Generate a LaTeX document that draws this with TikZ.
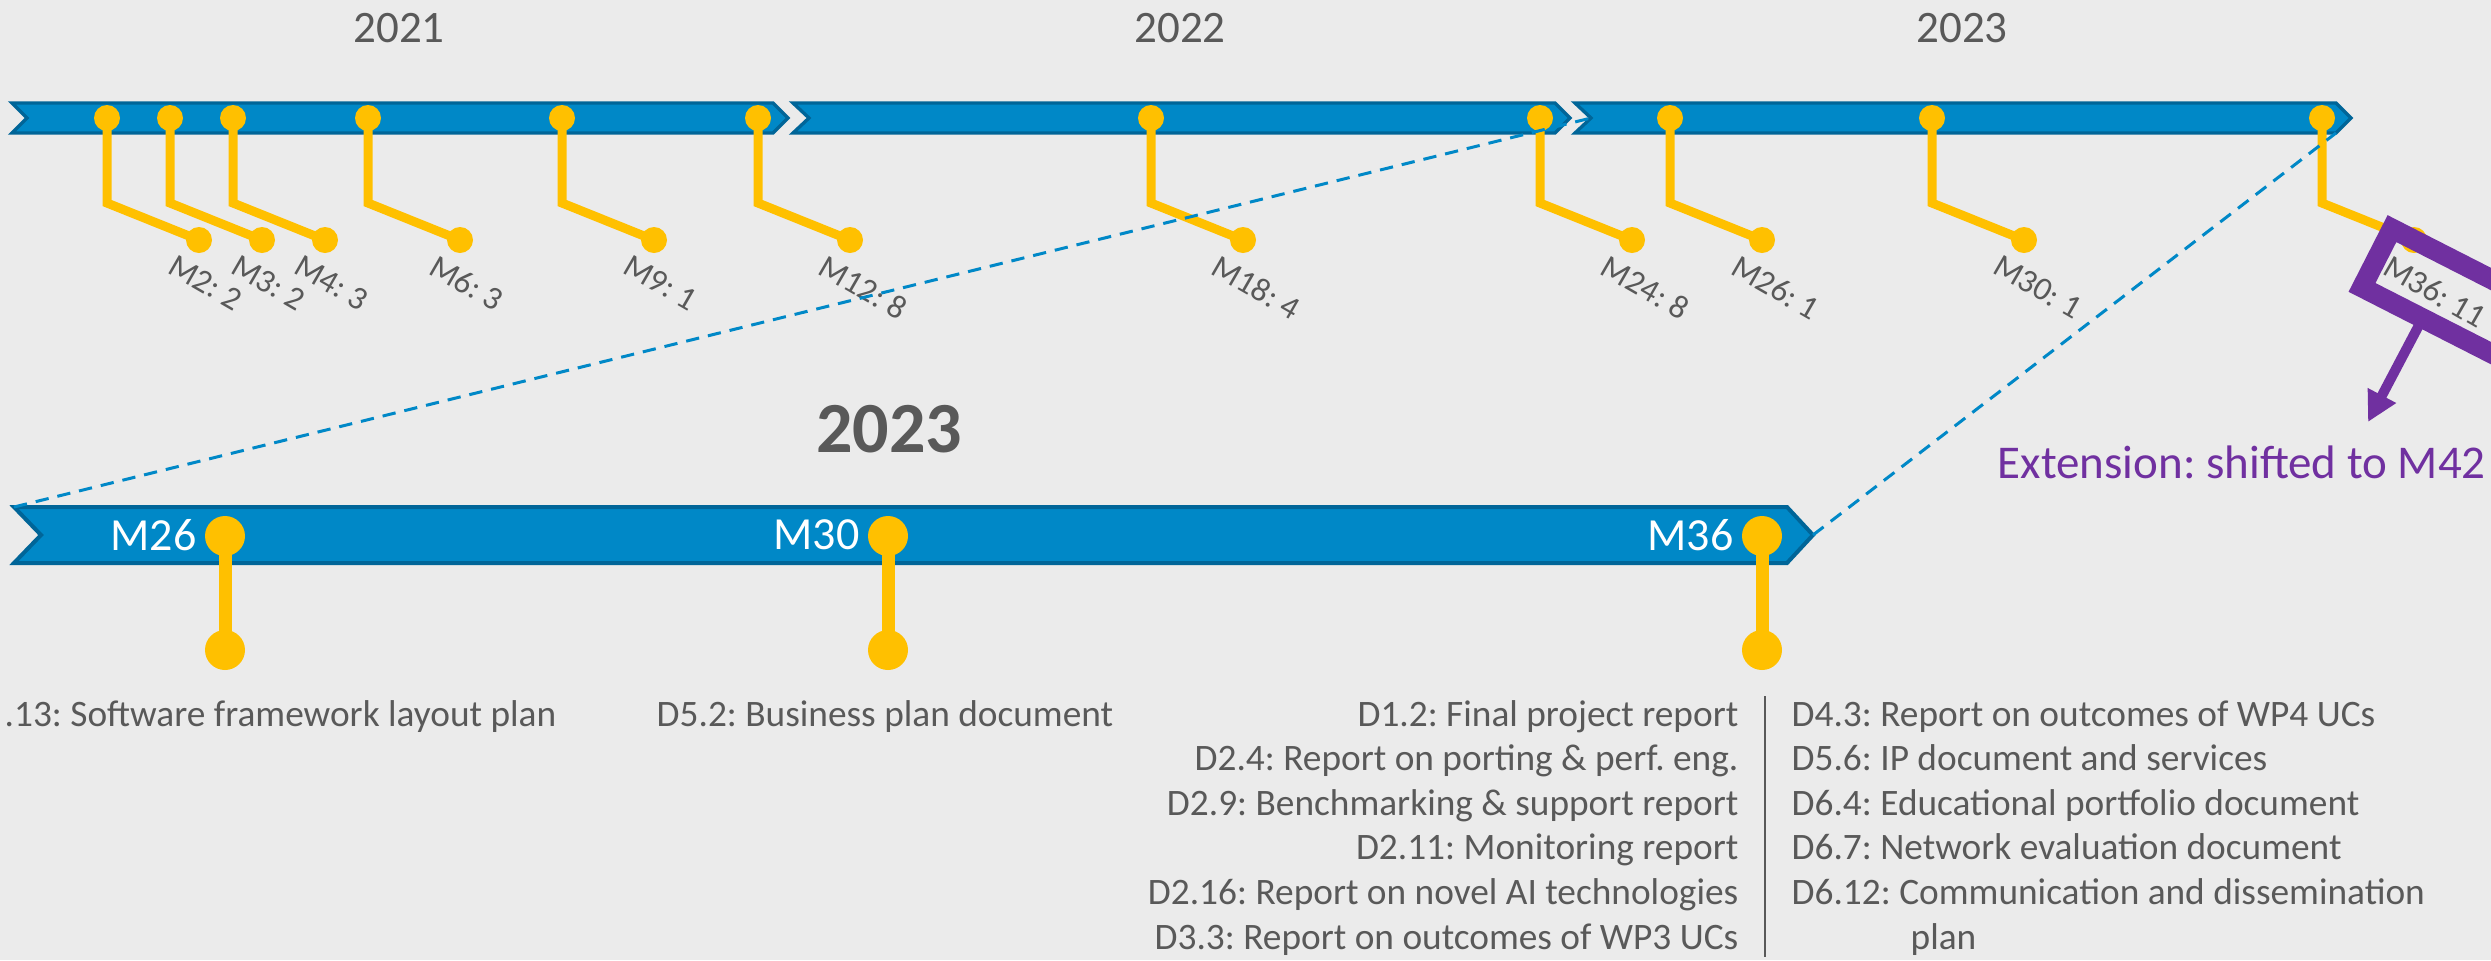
\documentclass[tikz,border=0pt]{standalone}
\usepackage{fontspec}
\setmainfont{Carlito}
\frenchspacing
\usetikzlibrary{arrows.meta,calc}

\definecolor{barblue}{RGB}{0,136,199}
\definecolor{baredge}{RGB}{0,101,152}
\definecolor{msyellow}{RGB}{255,192,0}
\definecolor{extpurple}{RGB}{112,48,160}
\definecolor{txtgray}{RGB}{89,89,89}
\definecolor{bggray}{RGB}{235,235,235}

\tikzset{
  tlbar/.style={fill=barblue, draw=baredge, line width=1pt},
  msdot/.style={circle, fill=msyellow, inner sep=0pt, minimum size=7.8pt},
  bigdot/.style={circle, fill=msyellow, inner sep=0pt, minimum size=12pt},
  mstem/.style={draw=msyellow, line width=2.7pt},
  bigstem/.style={draw=msyellow, line width=3.9pt},
  mlab/.style={anchor=north west, inner sep=0pt, rotate=-30, text=txtgray, font=\fontsize{9.9}{12}\selectfont},
  yearlab/.style={inner sep=0pt, text=txtgray, font=\fontsize{13.5}{16}\selectfont},
  boldyear/.style={inner sep=0pt, text=txtgray, font=\fontsize{21.6}{26}\selectfont\bfseries},
  barlab/.style={inner sep=0pt, text=white, font=\fontsize{13.8}{16}\selectfont},
  deltext/.style={inner sep=0pt, text=txtgray, font=\fontsize{11.2}{13}\selectfont},
  zoomline/.style={draw=barblue, line width=0.9pt, dash pattern=on 4pt off 2.7pt},
  extbox/.style={draw=extpurple, line width=6pt, rotate=-27, anchor=west, inner sep=0pt, outer sep=0pt, minimum width=51pt, minimum height=19.8pt},
  extarrow/.style={draw=extpurple, line width=3pt, -{Triangle[length=9pt,width=9pt]}},
  exttext/.style={anchor=base west, inner sep=0pt, text=extpurple, font=\fontsize{14.1}{17}\selectfont}
}

\begin{document}
\begin{tikzpicture}[x=0.3pt,y=0.3pt,yscale=-1,xscale=1]
% background, 2491 x 960
\fill[bggray] (0,0) rectangle (2491,960);
\useasboundingbox (0,0) rectangle (2491,960);
\clip (0,0) rectangle (2491,960);

% Text Node: years
\node[yearlab] (y2021) at (399,28) {2021};
\node[yearlab] (y2022) at (1180,28) {2022};
\node[yearlab] (y2023) at (1962,28) {2023};

% Shape: top chevrons
\draw[tlbar] (12,103) -- (773,103) -- (788,118) -- (773,133) -- (12,133) -- (27,118) -- cycle;
\draw[tlbar] (793,103) -- (1555,103) -- (1570,118) -- (1555,133) -- (793,133) -- (809,118) -- cycle;
\draw[tlbar] (1575,103) -- (2336,103) -- (2351,118) -- (2336,133) -- (1575,133) -- (1591,118) -- cycle;

% milestones on the top line
\foreach \mx/\mlab [count=\i] in {107/{M2: 2},170/{M3: 2},233/{M4: 3},368/{M6: 3},562/{M9: 1},758/{M12: 8},1151/{M18: 4},1540/{M24: 8},1670/{M26: 1},1932/{M30: 1},2322/{M36: 11}}{
  \node[msdot] (top\i) at (\mx,118) {};
  \node[msdot] (low\i) at (\mx+92,240) {};
  \coordinate (knee\i) at (\mx,203);
  \draw[mstem] (top\i.center) -- (knee\i) -- (low\i.center);
  \node[mlab] (lab\i) at (\mx+70,253) {\mlab};
}

% Shape: 2023 bar
\draw[tlbar, line width=1.2pt] (14,507) -- (1787,507) -- (1813,535) -- (1787,563) -- (14,563) -- (41,535) -- cycle;
\node[boldyear] (zoomyear) at (889,429) {2023};

% milestones on the 2023 bar
\foreach \bx/\blab [count=\j] in {225/M26,888/M30,1762/M36}{
  \node[bigdot] (btop\j) at (\bx,536) {};
  \node[bigdot] (blow\j) at (\bx,650) {};
  \draw[bigstem] (btop\j.center) -- (blow\j.center);
  \node[barlab, anchor=east] (blab\j) at (\bx-28,535) {\blab};
}

% Text Node: deliverables
\node[deltext, anchor=base west] (d213) at (4,726) {.13: Software framework layout plan};
\node[deltext, anchor=base] (d52) at (885,726) {D5.2: Business plan document};
\foreach \dtxt [count=\r] in {{D1.2: Final project report},{D2.4: Report on porting \& perf. eng.},{D2.9: Benchmarking \& support report},{D2.11: Monitoring report},{D2.16: Report on novel AI technologies},{D3.3: Report on outcomes of WP3 UCs}}
  \node[deltext, anchor=base east] (dl\r) at (1739,{726+44.6*(\r-1)}) {\dtxt};
\foreach \dtxt [count=\r] in {{D4.3: Report on outcomes of WP4 UCs},{D5.6: IP document and services},{D6.4: Educational portfolio document},{D6.7: Network evaluation document},{D6.12: Communication and dissemination}}
  \node[deltext, anchor=base west] (dr\r) at (1791,{726+44.6*(\r-1)}) {\dtxt};
\node[deltext, anchor=base west] (dr6) at (1910,949) {plan};
\draw[txtgray, line width=0.6pt] (1765,696) -- (1765,957);

% extension of M36
\node[extbox] (m36box) at (2377,258) {};
\coordinate (exttip) at (2368,422);
\draw[extarrow] ($(m36box.south west)!0.4!(m36box.south east)$) -- (exttip);
\node[exttext] (extnote) at (1997,478) {Extension: shifted to M42};

% Connection: zoom lines
\coordinate (zl) at (14,507);
\coordinate (zr) at (1813,535);
\coordinate (yl) at (1591,118);
\coordinate (yr) at (2336,133);
\draw[zoomline] (zl) -- (yl);
\draw[zoomline] (zr) -- (yr);

\end{tikzpicture}
\end{document}
